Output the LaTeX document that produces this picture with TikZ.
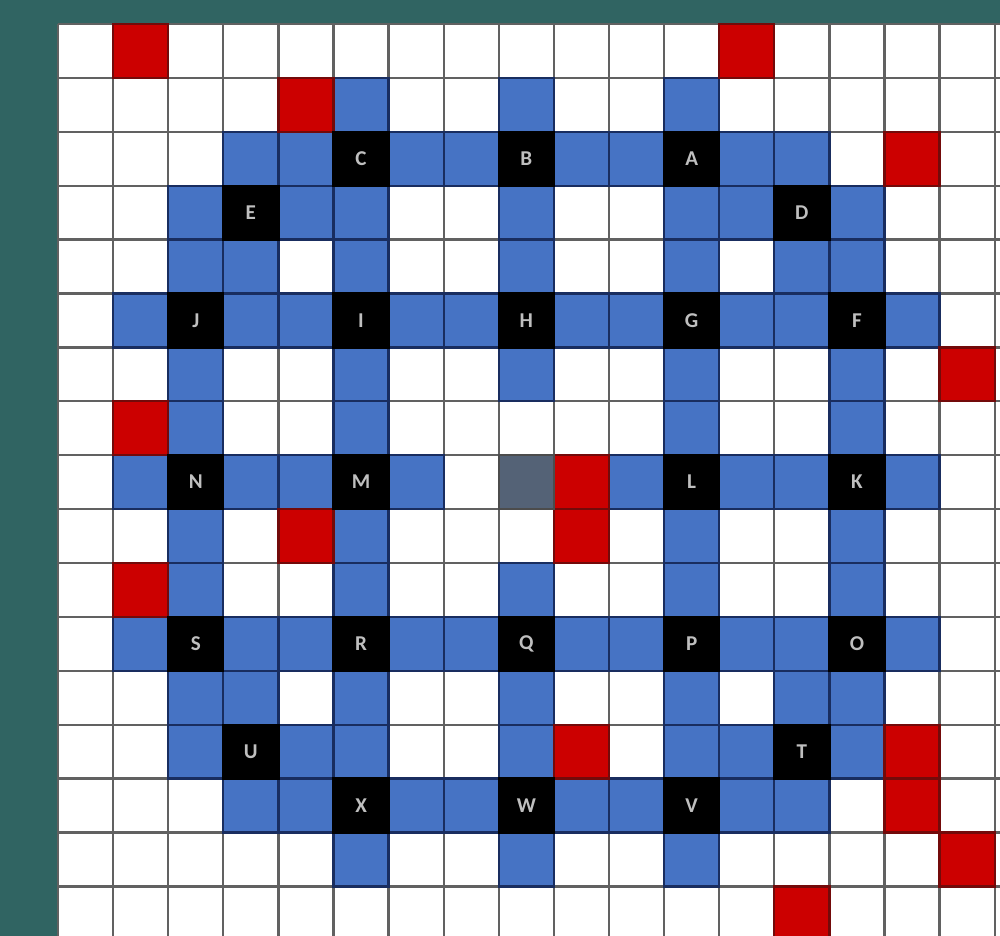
\documentclass[tikz,border=0pt]{standalone}
\usepackage{fontspec}
\setsansfont{Carlito}
\usetikzlibrary{positioning}

\definecolor{tealbg}{RGB}{48,100,98}
\definecolor{cellblue}{RGB}{70,115,196}
\definecolor{blueedge}{RGB}{25,45,95}
\definecolor{cellred}{RGB}{204,0,0}
\definecolor{rededge}{RGB}{115,10,10}
\definecolor{slate}{RGB}{84,98,118}

\begin{document}
\begin{tikzpicture}[
    x=1.102cm, y=-1.078cm,
    gridline/.style={line width=1.3pt, draw=black!62},
    bluecell/.style={fill=cellblue, draw=blueedge, line width=1.3pt},
    redcell/.style={fill=cellred, draw=rededge, line width=1.3pt},
    startcell/.style={fill=slate, draw=black!70, line width=1.3pt},
    lettercell/.style={rectangle, fill=black, draw=black, line width=1.3pt, minimum width=1.102cm, minimum height=1.078cm, inner sep=0pt, text=black!25, font=\sffamily\bfseries\large}
]

% Frame
\useasboundingbox (-1.0526,-0.445) rectangle (17.096,16.92);
\fill[tealbg] (-1.0526,-0.445) rectangle (17.096,16.92);
\clip (-1.0526,-0.445) rectangle (17.096,16.92);
\fill[white] (0,0) rectangle (18,17);

% === Grid ===
\foreach \c in {0,...,18}
    \draw[gridline] (\c,0) -- (\c,17);
\foreach \r in {0,...,17}
    \draw[gridline] (0,\r) -- (18,\r);

% === Blue path cells (row / columns) ===
\foreach \r/\cols in {
    1/{5,8,11},
    2/{3,4,6,7,9,10,12,13},
    3/{2,4,5,8,11,12,14},
    4/{2,3,5,8,11,13,14},
    5/{1,3,4,6,7,9,10,12,13,15},
    6/{2,5,8,11,14},
    7/{2,5,11,14},
    8/{1,3,4,6,10,12,13,15},
    9/{2,5,11,14},
    10/{2,5,8,11,14},
    11/{1,3,4,6,7,9,10,12,13,15},
    12/{2,3,5,8,11,13,14},
    13/{2,4,5,8,11,12,14},
    14/{3,4,6,7,9,10,12,13},
    15/{5,8,11}}
    \foreach \c in \cols
        \draw[bluecell] (\c,\r) rectangle ++(1,1);

% === Red cells ===
\foreach \c/\r in {1/0, 12/0, 4/1, 15/2, 16/6, 1/7, 9/8, 4/9, 9/9, 1/10, 9/13, 15/13, 15/14, 16/15, 13/16}
    \draw[redcell] (\c,\r) rectangle ++(1,1);

% Centre cell
\draw[startcell] (8,8) rectangle ++(1,1);

% === Lettered cells ===
\foreach \l/\c/\r in {A/11/2, B/8/2, C/5/2, D/13/3, E/3/3,
    F/14/5, G/11/5, H/8/5, I/5/5, J/2/5,
    K/14/8, L/11/8, M/5/8, N/2/8,
    O/14/11, P/11/11, Q/8/11, R/5/11, S/2/11,
    T/13/13, U/3/13, V/11/14, W/8/14, X/5/14}
    \node[lettercell] (\l) at (\c+0.5,\r+0.5) {\l};

\end{tikzpicture}
\end{document}
